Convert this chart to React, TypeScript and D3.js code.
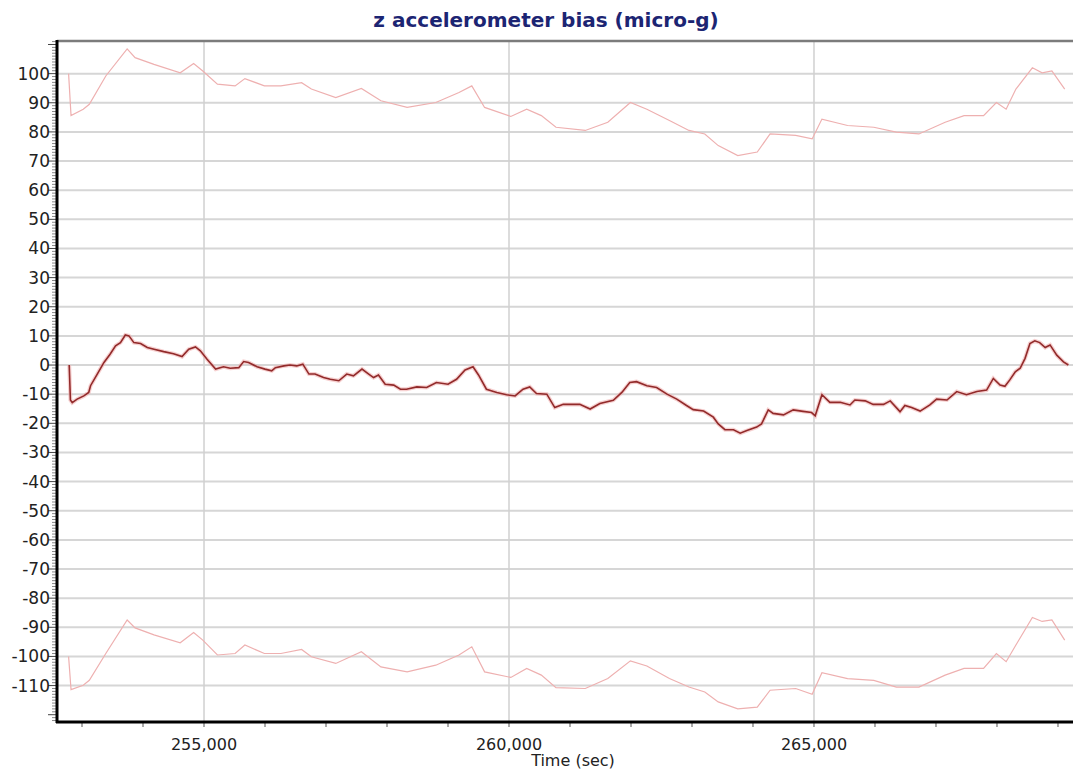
import { useEffect, useRef } from "react";
import * as d3 from "d3";

// estimated bias (centre line)
const midTime = [
  252790, 252810, 252840, 252920, 253030, 253110, 253140, 253250, 253360, 253460,
  253550, 253630, 253710, 253770, 253850, 253960, 254070, 254180, 254340, 254500,
  254640, 254750, 254860, 254940, 255050, 255190, 255320, 255430, 255570, 255650,
  255730, 255870, 256000, 256110, 256170, 256310, 256410, 256520, 256620, 256720,
  256820, 256960, 257070, 257210, 257340, 257450, 257590, 257700, 257780, 257860,
  257970, 258110, 258220, 258320, 258490, 258650, 258810, 259000, 259140, 259280,
  259410, 259500, 259630, 259800, 259960, 260100, 260230, 260340, 260450, 260620,
  260750, 260890, 261160, 261330, 261490, 261710, 261850, 261980, 262090, 262260,
  262420, 262590, 262750, 262910, 263020, 263190, 263350, 263430, 263540, 263680,
  263790, 263900, 264060, 264140, 264250, 264330, 264500, 264660, 264820, 264960,
  265020, 265130, 265260, 265430, 265590, 265670, 265840, 265970, 266140, 266250,
  266410, 266490, 266600, 266740, 266900, 267010, 267180, 267340, 267500, 267670,
  267830, 267940, 268050, 268130, 268210, 268300, 268380, 268460, 268540, 268620,
  268700, 268790, 268870, 268980, 269090, 269170,
];
const midValue = [
  0, -12, -12.9, -11.7, -10.6, -9.4, -7.1, -3.1, 0.9, 3.7,
  6.6, 7.7, 10.3, 10, 7.7, 7.4, 6, 5.4, 4.6, 3.9,
  2.9, 5.4, 6.2, 4.9, 2, -1.4, -0.6, -1.1, -0.9, 1.2,
  0.9, -0.6, -1.4, -2, -0.9, -0.3, 0, -0.3, 0.3, -3.1,
  -3.1, -4.3, -4.9, -5.4, -3.1, -3.7, -1.4, -3.1, -4.3, -3.4,
  -6.6, -6.9, -8.3, -8.3, -7.5, -7.7, -6, -6.6, -4.9, -1.7,
  -0.6, -3.4, -8.3, -9.4, -10.2, -10.6, -8.3, -7.5, -9.8, -10,
  -14.6, -13.5, -13.5, -15.1, -13.2, -12.1, -9.4, -6, -5.7, -7.1,
  -7.7, -10, -11.7, -13.9, -15.3, -15.8, -17.9, -20.2, -22.2, -22.2,
  -23.4, -22.5, -21.3, -20.2, -15.4, -16.6, -17.1, -15.4, -15.9, -16.3,
  -17.4, -10.2, -12.8, -12.8, -13.7, -12, -12.3, -13.5, -13.5, -12.3,
  -16, -13.9, -14.6, -15.8, -13.7, -11.7, -12, -9.1, -10.2, -9.1,
  -8.6, -4.6, -6.9, -7.3, -5.1, -2.3, -1.1, 2.3, 7.4, 8.3,
  7.7, 6, 6.9, 3.4, 1.1, 0,
];

// upper and lower uncertainty bounds
const boundTime = [
  252780, 252820, 253020, 253120, 253390, 253740, 253870, 254180, 254610, 254830,
  254980, 255220, 255510, 255670, 255990, 256260, 256600, 256760, 257160, 257580,
  257900, 258330, 258800, 259180, 259390, 259600, 260030, 260290, 260530, 260770,
  261250, 261620, 261990, 262260, 262630, 262950, 263210, 263430, 263750, 264070,
  264280, 264700, 264970, 265130, 265550, 265980, 266350, 266720, 267150, 267460,
  267780, 267990, 268150, 268310, 268580, 268740, 268900, 269110,
];
const upperValue = [
  100, 85.6, 87.8, 89.5, 99.2, 108.5, 105.5, 103.2, 100.3, 103.5,
  100.9, 96.4, 95.8, 98.3, 95.8, 95.8, 96.9, 94.7, 91.8, 94.9,
  90.7, 88.4, 90.1, 93.5, 95.8, 88.4, 85.3, 87.8, 85.6, 81.6,
  80.5, 83.3, 90.1, 87.8, 83.9, 80.5, 79.3, 75.3, 71.9, 73.1,
  79.3, 78.8, 77.6, 84.4, 82.2, 81.6, 79.9, 79.3, 83.3, 85.6,
  85.6, 90.1, 87.8, 94.7, 102, 100.3, 100.9, 94.7,
];
const lowerValue = [
  -100, -111.4, -109.9, -108.2, -99, -87.5, -90.2, -92.6, -95.3, -91.8,
  -94.4, -99.5, -99, -96.1, -99, -99, -97.6, -100.1, -102.4, -98.4,
  -103.6, -105.3, -103, -99.5, -96.7, -105.3, -107.2, -104.1, -106.4, -110.7,
  -111, -107.6, -101.5, -103.3, -107.6, -110.5, -112.2, -115.6, -118, -117.4,
  -111.6, -111, -113, -105.6, -107.6, -108.2, -110.5, -110.5, -106.4, -104.1,
  -104.1, -99, -101.8, -96.1, -86.6, -88, -87.5, -94.4,
];

const yTickValues = [-110, -100, -90, -80, -70, -60, -50, -40, -30, -20, -10, 0, 10, 20, 30, 40, 50, 60, 70, 80, 90, 100];
const xTickValues = [255000, 260000, 265000];

const W = 1073;
const H = 778;
const FONT = "'DejaVu Sans', Verdana, sans-serif";

export default function App() {
  const ref = useRef<SVGSVGElement>(null);

  useEffect(() => {
    if (!ref.current) return;
    const svg = d3.select(ref.current);
    svg.selectAll("*").remove();

    const left = 57, top = 41, right = W, bottom = 722;

    const x = d3.scaleLinear().domain([252590, 269246]).range([left, right]);
    const y = d3.scaleLinear().domain([-122.5, 111.2]).range([bottom, top]);

    svg.append("rect").attr("width", W).attr("height", H).attr("fill", "#fff");

    // grid
    svg.append("g")
      .selectAll("line")
      .data(yTickValues)
      .join("line")
      .attr("x1", left).attr("x2", right)
      .attr("y1", d => y(d)).attr("y2", d => y(d))
      .attr("stroke", "#d6d6d6").attr("stroke-width", 2);

    svg.append("g")
      .selectAll("line")
      .data(xTickValues)
      .join("line")
      .attr("x1", d => x(d)).attr("x2", d => x(d))
      .attr("y1", top).attr("y2", bottom)
      .attr("stroke", "#d0d0d0").attr("stroke-width", 1.5);

    // top frame
    svg.append("line")
      .attr("x1", left).attr("x2", right).attr("y1", top).attr("y2", top)
      .attr("stroke", "#7c7c7c").attr("stroke-width", 2.5);

    const line = d3.line<[number, number]>()
      .x(d => x(d[0]))
      .y(d => y(d[1]));

    const upper = d3.zip(boundTime, upperValue) as [number, number][];
    const lower = d3.zip(boundTime, lowerValue) as [number, number][];
    const mid = d3.zip(midTime, midValue) as [number, number][];

    [upper, lower].forEach(s => {
      svg.append("path")
        .attr("d", line(s))
        .attr("fill", "none")
        .attr("stroke", "#eeb0b0")
        .attr("stroke-width", 1.2);
    });

    svg.append("path")
      .attr("d", line(mid))
      .attr("fill", "none")
      .attr("stroke", "#f0b0b0")
      .attr("stroke-width", 4)
      .attr("stroke-opacity", 0.6);
    svg.append("path")
      .attr("d", line(mid))
      .attr("fill", "none")
      .attr("stroke", "#922a2a")
      .attr("stroke-width", 1.6);

    // y axis ticks (minor every 1, major every 10)
    svg.append("g")
      .selectAll("line")
      .data(d3.range(-122, 112, 1))
      .join("line")
      .attr("x1", d => (d % 10 === 0 ? 48 : 52)).attr("x2", left)
      .attr("y1", d => y(d)).attr("y2", d => y(d))
      .attr("stroke", d => (d % 10 === 0 ? "#444" : "#888"))
      .attr("stroke-width", 1);

    svg.append("g")
      .selectAll("text")
      .data(yTickValues)
      .join("text")
      .attr("x", 50)
      .attr("y", d => y(d) + 6)
      .attr("text-anchor", "end")
      .attr("font-family", FONT)
      .attr("font-size", 17)
      .attr("fill", "#222")
      .text(d => String(d));

    // x axis ticks
    svg.append("g")
      .selectAll("line")
      .data(d3.range(253000, 269001, 1000))
      .join("line")
      .attr("x1", d => x(d)).attr("x2", d => x(d))
      .attr("y1", bottom).attr("y2", bottom + 5)
      .attr("stroke", "#555").attr("stroke-width", 1);

    svg.append("g")
      .selectAll("text")
      .data(xTickValues)
      .join("text")
      .attr("x", d => x(d))
      .attr("y", 750)
      .attr("text-anchor", "middle")
      .attr("font-family", FONT)
      .attr("font-size", 16)
      .attr("fill", "#222")
      .text(d => d3.format(",")(d));

    // axis lines
    svg.append("line")
      .attr("x1", left).attr("x2", left).attr("y1", top - 1).attr("y2", bottom + 1)
      .attr("stroke", "#000").attr("stroke-width", 3);
    svg.append("line")
      .attr("x1", left - 1).attr("x2", right).attr("y1", bottom).attr("y2", bottom)
      .attr("stroke", "#000").attr("stroke-width", 3);

    svg.append("text")
      .attr("x", 573).attr("y", 766)
      .attr("text-anchor", "middle")
      .attr("font-family", FONT)
      .attr("font-size", 16)
      .attr("fill", "#222")
      .text("Time (sec)");

    svg.append("text")
      .attr("x", 546).attr("y", 27)
      .attr("text-anchor", "middle")
      .attr("font-family", FONT)
      .attr("font-size", 20)
      .attr("font-weight", "bold")
      .attr("fill", "#1c2573")
      .text("z accelerometer bias (micro-g)");
  }, []);

  return (
    <svg
      ref={ref}
      width={W}
      height={H}
      style={{ position: "absolute", left: 0, top: 0, display: "block" }}
    />
  );
}
